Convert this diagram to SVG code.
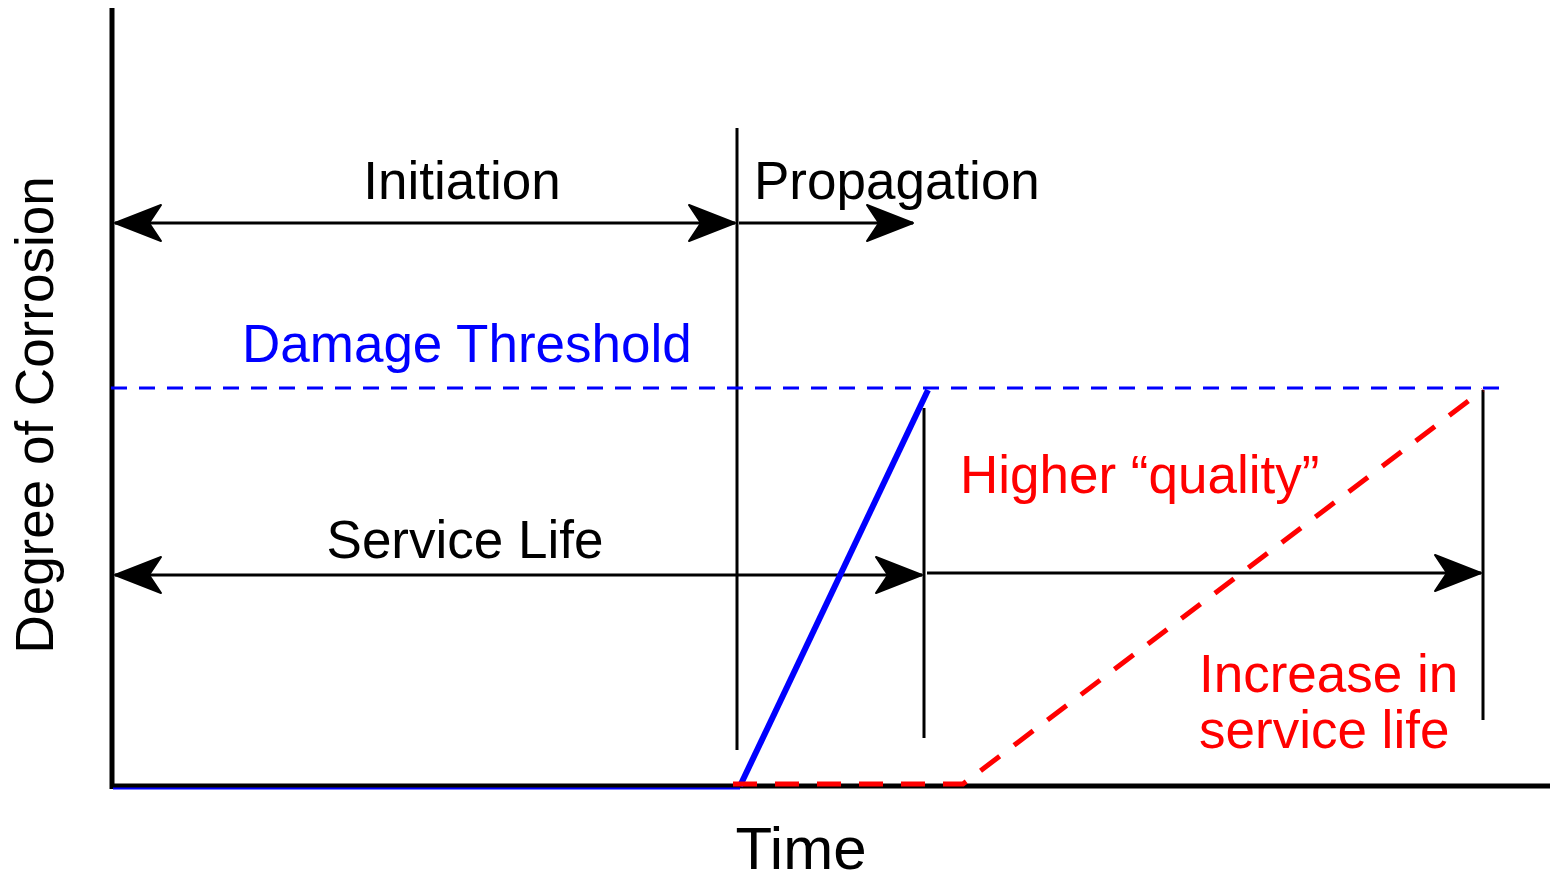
<svg xmlns="http://www.w3.org/2000/svg" width="1550" height="883" viewBox="0 0 1550 883">
<style>
text{font-family:"Liberation Sans",Arial,sans-serif;font-size:53px}
.blk{fill:#000}.blue{fill:#0000ff}.red{fill:#ff0000}
.ln{stroke:#000;stroke-width:3;fill:none}
.ax{stroke:#000;stroke-width:5;fill:none}
</style>
<defs>
<marker id="ah" viewBox="-50 -22 54 44" refX="0" refY="0" markerWidth="54" markerHeight="44" markerUnits="userSpaceOnUse" orient="auto-start-reverse">
<path d="M0,0 L-46,-18 L-34,0 L-46,18 Z" fill="#000" stroke="#000" stroke-width="2" stroke-linejoin="round"/>
</marker>
</defs>
<rect width="1550" height="883" fill="#fff"/>
<g id="axes">
<line class="ax" x1="112" y1="8" x2="112" y2="789"/>
<line class="ax" x1="110" y1="786" x2="1550" y2="786"/>
<line x1="113" y1="788.5" x2="740" y2="788.5" stroke="#0000ff" stroke-width="2"/>
</g>
<g id="connectors">
<line class="ln" x1="737" y1="128" x2="737" y2="750"/>
<line class="ln" x1="924" y1="408" x2="924" y2="738"/>
<line class="ln" x1="1483" y1="390" x2="1483" y2="720"/>
<line class="ln" x1="115" y1="223" x2="735" y2="223" marker-start="url(#ah)" marker-end="url(#ah)"/>
<line class="ln" x1="739" y1="223" x2="913" y2="223" marker-end="url(#ah)"/>
<line class="ln" x1="115" y1="575" x2="922" y2="575" marker-start="url(#ah)" marker-end="url(#ah)"/>
<line class="ln" x1="927" y1="573" x2="1481" y2="573" marker-end="url(#ah)"/>
</g>
<g id="curves">
<line x1="111" y1="388" x2="1500" y2="388" stroke="#0000ff" stroke-width="3" stroke-dasharray="16 12"/>
<line x1="740" y1="786" x2="928" y2="390" stroke="#0000ff" stroke-width="6"/>
<path d="M733,784 L963,784 L1483,390" fill="none" stroke="#ff0000" stroke-width="5" stroke-dasharray="24 18"/>
</g>
<g id="labels">
<text class="blk" x="462" y="199" text-anchor="middle">Initiation</text>
<text class="blk" x="754" y="199">Propagation</text>
<text class="blue" x="242" y="362">Damage Threshold</text>
<text class="blk" x="465" y="558" text-anchor="middle">Service Life</text>
<text class="red" x="960" y="493">Higher “quality”</text>
<text class="red" x="1199" y="692">Increase in</text>
<text class="red" x="1199" y="748">service life</text>
<text class="blk" x="801" y="869" text-anchor="middle" style="font-size:60px">Time</text>
<text class="blk" transform="translate(53,415) rotate(-90)" text-anchor="middle">Degree of Corrosion</text>
</g>
</svg>
